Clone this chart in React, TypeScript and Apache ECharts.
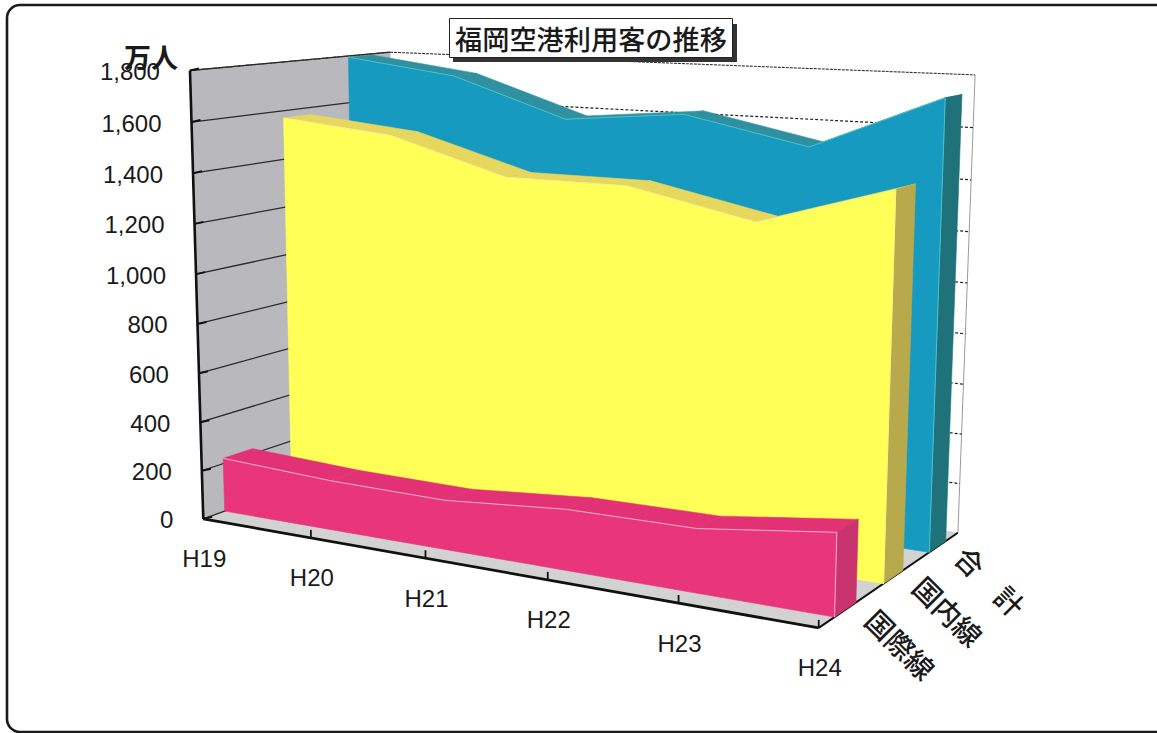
import React, { useEffect, useRef } from "react";
import * as echarts from "echarts";

const categories = ["H19", "H20", "H21", "H22", "H23", "H24"];
const yTicks = [0, 200, 400, 600, 800, 1000, 1200, 1400, 1600, 1800];
const totalValues = [1795, 1735, 1580, 1625, 1525, 1735];
const domesticValues = [1570, 1525, 1390, 1390, 1290, 1445];
const internationalValues = [222, 200, 195, 235, 240, 305];
const depthNames = ["国際線", "国内線", "合　計"];

const FONT = "'Liberation Sans', Arial, sans-serif";
const CJK = "'Noto Sans CJK JP', sans-serif";
const Y_MAX = 1800;

// camera calibration: world (x, y, z) in 0..1 -> picture position
const VIEW: number[][] = [
  [0, 0, 0, 203, 518], [0.2, 0, 0, 312, 537], [0.4, 0, 0, 425, 558],
  [0.6, 0, 0, 548, 581], [0.8, 0, 0, 679, 605], [1, 0, 0, 818, 628],
  [0, 1, 0, 190, 71], [0, 5 / 9, 0, 196, 274], [0, 2 / 9, 0, 200, 421],
  [0, 1, 1, 390, 52], [0, 0, 1, 395, 451],
  [1, 0, 1, 958, 531], [1, 1, 1, 975, 75], [1, 5 / 9, 1, 968, 283], [1, 2 / 9, 1, 961, 434],
];

function solveCamera(): number[] {
  const rows: number[][] = [];
  const rhs: number[] = [];
  for (const [X, Y, Z, sx, sy] of VIEW) {
    rows.push([X, Y, Z, 1, 0, 0, 0, 0, -sx * X, -sx * Y, -sx * Z]);
    rhs.push(sx);
    rows.push([0, 0, 0, 0, X, Y, Z, 1, -sy * X, -sy * Y, -sy * Z]);
    rhs.push(sy);
  }
  const n = 11;
  const M: number[][] = [];
  for (let i = 0; i < n; i++) {
    const r: number[] = [];
    for (let j = 0; j < n; j++) {
      let s = 0;
      rows.forEach((row) => (s += row[i] * row[j]));
      r.push(s);
    }
    let b = 0;
    rows.forEach((row, k) => (b += row[i] * rhs[k]));
    r.push(b);
    M.push(r);
  }
  for (let c = 0; c < n; c++) {
    let p = c;
    for (let r = c + 1; r < n; r++) if (Math.abs(M[r][c]) > Math.abs(M[p][c])) p = r;
    [M[c], M[p]] = [M[p], M[c]];
    for (let r = 0; r < n; r++) {
      if (r === c) continue;
      const f = M[r][c] / M[c][c];
      for (let k = c; k <= n; k++) M[r][k] -= f * M[c][k];
    }
  }
  return M.map((r, i) => r[n] / r[i]);
}
const P = solveCamera();
function project(x: number, y: number, z: number): number[] {
  const w = P[8] * x + P[9] * y + P[10] * z + 1;
  return [
    (P[0] * x + P[1] * y + P[2] * z + P[3]) / w,
    (P[4] * x + P[5] * y + P[6] * z + P[7]) / w,
  ];
}

// the library's own scales give the normalised position inside the grid
function world(api: any, params: any, cat: number, value: number): number[] {
  const c = api.coord([cat, value]);
  const g = params.coordSys;
  return [(c[0] - g.x) / g.width, (g.y + g.height - c[1]) / g.height];
}

const poly = (points: number[][], fill: string, stroke?: string, lineWidth = 0.6) => ({
  type: "polygon",
  shape: { points },
  style: { fill, stroke: stroke || fill, lineWidth },
});
const seg = (a: number[], b: number[], stroke: string, lineWidth: number, lineDash?: number[]) => ({
  type: "line",
  shape: { x1: a[0], y1: a[1], x2: b[0], y2: b[1] },
  style: { stroke, lineWidth, lineDash: lineDash || undefined, fill: "none" },
});
const label = (text: string, x: number, y: number, fontSize: number, fontFamily: string, extra: any = {}) => ({
  type: "text",
  x,
  y,
  rotation: extra.rotation || 0,
  style: {
    text,
    fill: "#1a1a1a",
    fontSize,
    fontFamily,
    fontWeight: extra.fontWeight || "normal",
    textAlign: extra.textAlign || "center",
    textVerticalAlign: "middle",
  },
});

function ribbon(values: number[], z0: number, z1: number, c: { front: string; top: string; side: string; edge: string }) {
  return (params: any, api: any) => {
    if (params.dataIndex !== 0) return null;
    const w = values.map((v, i) => world(api, params, i, v));
    const floorX = values.map((_, i) => world(api, params, i, 0));
    const children: any[] = [];
    for (let i = 0; i < w.length - 1; i++) {
      children.push(
        poly(
          [project(w[i][0], w[i][1], z0), project(w[i + 1][0], w[i + 1][1], z0), project(w[i + 1][0], w[i + 1][1], z1), project(w[i][0], w[i][1], z1)],
          c.top
        )
      );
    }
    const last = w[w.length - 1];
    children.push(
      poly([project(last[0], 0, z0), project(last[0], last[1], z0), project(last[0], last[1], z1), project(last[0], 0, z1)], c.side)
    );
    const front = w.map((p) => project(p[0], p[1], z0));
    const base = floorX.map((p) => project(p[0], 0, z0)).reverse();
    children.push(poly(front.concat(base), c.front));
    children.push({
      type: "polyline",
      shape: { points: front },
      style: { stroke: c.edge, lineWidth: 1, fill: "none" },
    });
    children.push(seg(project(last[0], 0, z0), project(last[0], last[1], z0), c.edge, 1));
    return { type: "group", children };
  };
}

const renderFloorWalls = (params: any, api: any) => {
  if (params.dataIndex !== 0) return null;
  return {
    type: "group",
    children: [
      poly([project(0, 0, 0), project(0, 1, 0), project(0, 1, 1), project(0, 0, 1)], "#b9b9bd"),
      poly([project(0, 0, 0), project(1, 0, 0), project(1, 0, 1), project(0, 0, 1)], "#d2d2d2"),
      seg(project(0, 1, 0), project(0, 1, 1), "#333333", 1.1, [3, 1]),
      seg(project(0, 1, 1), project(1, 1, 1), "#333333", 1.1, [3, 1]),
      seg(project(1, 1, 1), project(1, 0, 1), "#9a9a9a", 1),
    ],
  };
};

const renderYTick = (params: any, api: any) => {
  const w = world(api, params, 0, api.value(1));
  const a = project(0, w[1], 0);
  const b = project(0, w[1], 1);
  const c = project(1, w[1], 1);
  const children: any[] = [
    seg(a, b, "#2a2a2a", 1.3),
    seg(a, [a[0] + 9, a[1] - 2], "#111111", 2),
    label(String(api.value(1)).replace(/\B(?=(\d{3})+$)/g, ","), a[0] - 30, a[1] + 1, 24, FONT, { textAlign: "right" }),
  ];
  if (api.value(1) > 0 && api.value(1) < Y_MAX) children.unshift(seg(b, c, "#222222", 1.2, [3, 2]));
  return { type: "group", children };
};

const renderXTick = (params: any, api: any) => {
  const i = api.value(0);
  const w = world(api, params, i, 0);
  const a = project(w[0], 0, 0);
  return {
    type: "group",
    children: [
      seg(a, [a[0], a[1] - 8], "#111111", 1.8),
      label(categories[i], a[0] + 1, a[1] + 40, 24, FONT),
    ],
  };
};

const renderAxes = (params: any, api: any) => {
  if (params.dataIndex !== 0) return null;
  const children: any[] = [
    seg(project(0, 0, 0), project(0, 1, 0), "#111111", 2.6),
    seg(project(0, 0, 0), project(1, 0, 0), "#111111", 2.8),
    seg(project(1, 0, 0), project(1, 0, 1), "#111111", 2),
  ];
  return { type: "group", children };
};

const depthCentres = [1 / 6, 1 / 2, 5 / 6];
const depthShift = [56, 55, 53];
const renderDepthLabel = (params: any, api: any) => {
  const i = params.dataIndex;
  const p = project(1, 0, depthCentres[i]);
  return label(depthNames[i], p[0] + depthShift[i], p[1] + 34, 28, CJK, { rotation: -Math.PI / 4, fontWeight: 500 });
};

const oneItem = [[0, 0]];
const customBase = {
  type: "custom",
  coordinateSystem: "cartesian2d",
  clip: false,
  silent: true,
};

export default function App() {
  const ref = useRef<HTMLDivElement>(null);
  useEffect(() => {
    const chart = echarts.init(ref.current!, undefined, { renderer: "svg" });
    chart.setOption({
      animation: false,
      backgroundColor: "#ffffff",
      title: {
        text: "福岡空港利用客の推移",
        left: 449,
        top: 18,
        padding: [3, 6, 4, 6],
        backgroundColor: "#ffffff",
        borderColor: "#222222",
        borderWidth: 1,
        textStyle: { fontFamily: CJK, fontSize: 27.2, fontWeight: 500, color: "#1a1a1a", lineHeight: 33 },
      },
      grid: { left: 190, top: 72, width: 780, height: 446 },
      xAxis: { type: "category", data: categories, boundaryGap: false, show: false },
      yAxis: {
        type: "value",
        min: 0,
        max: Y_MAX,
        interval: 200,
        name: "万人",
        nameLocation: "end",
        nameGap: 2,
        nameTextStyle: { fontFamily: CJK, fontSize: 27, fontWeight: "bold", color: "#1a1a1a", align: "right", padding: [0, 12, 0, 0] },
        axisLabel: { show: false },
        axisLine: { show: false },
        axisTick: { show: false },
        splitLine: { show: false },
      },
      graphic: [
        { type: "rect", z: -10, shape: { x: 7, y: 5, width: 1165, height: 727, r: 13 }, style: { fill: "none", stroke: "#1a1a1a", lineWidth: 2.6 } },
        { type: "rect", z: 5, shape: { x: 453, y: 24, width: 284, height: 38 }, style: { fill: "#333333" } },
      ],
      series: [
        { ...customBase, name: "walls", z: 1, data: oneItem, renderItem: renderFloorWalls },
        { ...customBase, name: "yTicks", z: 2, data: yTicks.map((v) => [0, v]), renderItem: renderYTick, encode: { x: 0, y: 1 } },
        { ...customBase, name: "xTicks", z: 2, data: categories.map((_, i) => [i, 0]), renderItem: renderXTick, encode: { x: 0, y: 1 } },
        { ...customBase, name: "axes", z: 3, data: oneItem, renderItem: renderAxes },
        {
          ...customBase, name: "合計", z: 4,
          data: totalValues.map((v, i) => [i, v]),
          renderItem: ribbon(totalValues, 0.77, 0.9, { front: "#169ac0", top: "#2f919f", side: "#1f7279", edge: "#4fc0c8" }),
        },
        {
          ...customBase, name: "国内線", z: 5,
          data: domesticValues.map((v, i) => [i, v]),
          renderItem: ribbon(domesticValues, 0.43, 0.57, { front: "#ffff58", top: "#e8d75e", side: "#b8aa4c", edge: "#f4f48a" }),
        },
        {
          ...customBase, name: "国際線", z: 6,
          data: internationalValues.map((v, i) => [i, v]),
          renderItem: ribbon(internationalValues, 0.1, 0.24, { front: "#e9357a", top: "#e23174", side: "#c9346f", edge: "#f4b0c8" }),
        },
        { ...customBase, name: "depthLabels", z: 7, data: depthNames.map((_, i) => [0, i]), renderItem: renderDepthLabel },
      ],
    });
    return () => chart.dispose();
  }, []);
  return <div ref={ref} style={{ position: "absolute", left: 0, top: 0, width: 1157, height: 733 }} />;
}
